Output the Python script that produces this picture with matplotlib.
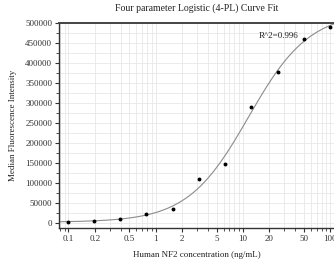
import numpy as np
import matplotlib
matplotlib.use("Agg")
import matplotlib.pyplot as plt
from matplotlib.ticker import FixedLocator, NullFormatter, MultipleLocator

# two-fold dilution series of Human NF2 (ng/mL)
conc = [0.0977, 0.195, 0.39, 0.78, 1.56, 3.125, 6.25, 12.5, 25, 50, 100]
mfi = [2500, 5000, 9000, 21500, 34000, 110000, 146500, 289000, 376500, 460500, 489000]
xtick_vals = [0.1, 0.2, 0.5, 1, 2, 5, 10, 20, 50, 100]
xtick_labels = ["0.1", "0.2", "0.5", "1", "2", "5", "10", "20", "50", "100"]
r2_label = "R^2=0.996"

plt.rcParams['font.family'] = ['Liberation Serif', 'DejaVu Serif']


def four_pl(x, a, b, c, d):
    return d + (a - d) / (1 + (x / c) ** b)


# fit the 4PL model: grid over slope/EC50, linear solve for bottom/top
x = np.array(conc)
y = np.array(mfi, dtype=float)
best = None
for b in np.linspace(0.6, 2.5, 96):
    for c in np.logspace(0, 2, 200):
        g = 1 / (1 + (x / c) ** b)
        A = np.column_stack([g, 1 - g])
        coef, *_ = np.linalg.lstsq(A, y, rcond=None)
        sse = np.sum((A @ coef - y) ** 2)
        if best is None or sse < best[0]:
            best = (sse, coef[0], b, c, coef[1])
_, a, b, c, d = best

fig = plt.figure(figsize=(3.34, 2.64), dpi=100)
ax = fig.add_axes([0.1766, 0.1364, 0.8234, 0.7765])

xs = np.logspace(-1.1, 2.05, 300)
ax.plot(xs, four_pl(xs, a, b, c, d), color="#8c8c8c", lw=0.8, zorder=2)
ax.plot(conc, mfi, "o", color="black", ms=1.8, zorder=3)

ax.set_xscale("log")
ax.set_xlim(0.0778, 111)
ax.set_ylim(-12500, 500000)

ax.xaxis.set_major_locator(FixedLocator(xtick_vals))
ax.set_xticklabels(xtick_labels)
minor = [m * 10.0 ** e for e in range(-2, 3) for m in range(1, 10)]
ax.xaxis.set_minor_locator(FixedLocator(minor))
ax.xaxis.set_minor_formatter(NullFormatter())
ax.yaxis.set_major_locator(MultipleLocator(50000))
ax.yaxis.set_minor_locator(MultipleLocator(25000))

ax.grid(True, which="both", color="#e8e8e8", lw=0.6, zorder=0)
ax.set_axisbelow(True)

ax.tick_params(which="both", direction="out", labelsize=6.5, colors="#333333",
               top=False, right=False, pad=2)
ax.tick_params(which="major", length=3, width=0.8)
ax.tick_params(which="minor", length=2, width=0.6)

for s in ["left", "bottom"]:
    ax.spines[s].set_color("#333333")
    ax.spines[s].set_linewidth(1.0)
ax.spines["top"].set_color("#444444")
ax.spines["top"].set_linewidth(1.4)
ax.spines["right"].set_visible(False)

ax.set_title("Four parameter Logistic (4-PL) Curve Fit", fontsize=7, pad=9, color="#222222")
ax.set_xlabel("Human NF2 concentration (ng/mL)", fontsize=6.5, labelpad=6, color="#222222")
ax.set_ylabel("Median Fluorescence Intensity", fontsize=6.5, labelpad=6, color="#222222")
ax.text(0.87, 0.935, r2_label, transform=ax.transAxes, ha="right", va="center",
        fontsize=6.5, color="#222222")

fig.savefig("out.png", dpi=100)
